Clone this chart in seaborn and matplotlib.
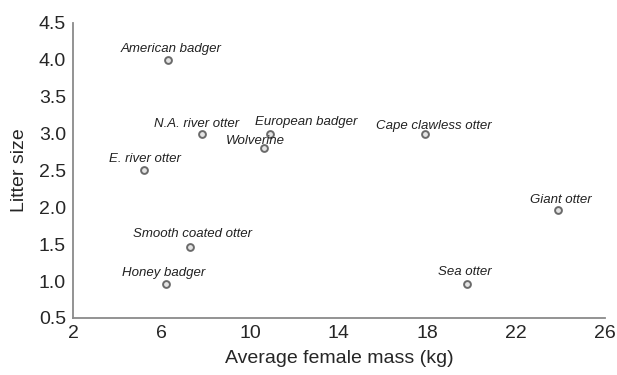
import matplotlib
matplotlib.use("Agg")
import matplotlib.pyplot as plt
import seaborn as sns
import pandas as pd

# data
species = ["American badger", "N.A. river otter", "European badger", "Wolverine",
           "E. river otter", "Cape clawless otter", "Giant otter",
           "Smooth coated otter", "Honey badger", "Sea otter"]
mass_kg = [6.3, 7.8, 10.9, 10.6, 5.2, 17.9, 23.9, 7.3, 6.2, 19.8]
litter = [4.0, 3.0, 3.0, 2.8, 2.5, 3.0, 1.96, 1.46, 0.96, 0.96]
x_ticks = [2, 6, 10, 14, 18, 22, 26]
y_ticks = [0.5, 1.0, 1.5, 2.0, 2.5, 3.0, 3.5, 4.0, 4.5]

# label offsets in pixels from the point (style only)
label_offsets_px = [(2.5, 11), (-5, 10), (36, 12), (-8.5, 7), (1, 11), (8, 8),
                    (2.5, 10), (2, 13), (-2, 11), (-3, 12)]

df = pd.DataFrame({"species": species, "mass": mass_kg, "litter": litter})

sns.set_style("white")
plt.rcParams["font.family"] = ["Liberation Sans", "DejaVu Sans"]

fig = plt.figure(figsize=(6.17, 3.75), dpi=100)
ax = fig.add_axes([0.1183, 0.152, 0.862, 0.787])

sns.scatterplot(data=df, x="mass", y="litter", ax=ax, s=24, marker="o",
                facecolor="#e4e4e4", edgecolor="#6a6a6a", linewidth=1.4, zorder=3)

for i, row in df.iterrows():
    dx, dy = label_offsets_px[i]
    ax.annotate(row["species"], (row["mass"], row["litter"]),
                xytext=(dx * 0.72, dy * 0.72), textcoords="offset points",
                ha="center", va="center",
                fontsize=9.5, style="italic", color="#222222")

ax.set_xlim(2, 26)
ax.set_ylim(0.5, 4.5)
ax.set_xticks(x_ticks)
ax.set_yticks(y_ticks)
ax.set_yticklabels([f"{v:.1f}" for v in y_ticks])
ax.tick_params(axis="both", labelsize=14, length=2, width=0.8, color="#888888",
               direction="in", pad=5)
ax.set_xlabel("Average female mass (kg)", fontsize=14, labelpad=6)
ax.set_ylabel("Litter size", fontsize=14, labelpad=8)

sns.despine(ax=ax)
for side in ["left", "bottom"]:
    ax.spines[side].set_color("#8a8a8a")
    ax.spines[side].set_linewidth(1.3)

fig.savefig("out.png", dpi=100)
